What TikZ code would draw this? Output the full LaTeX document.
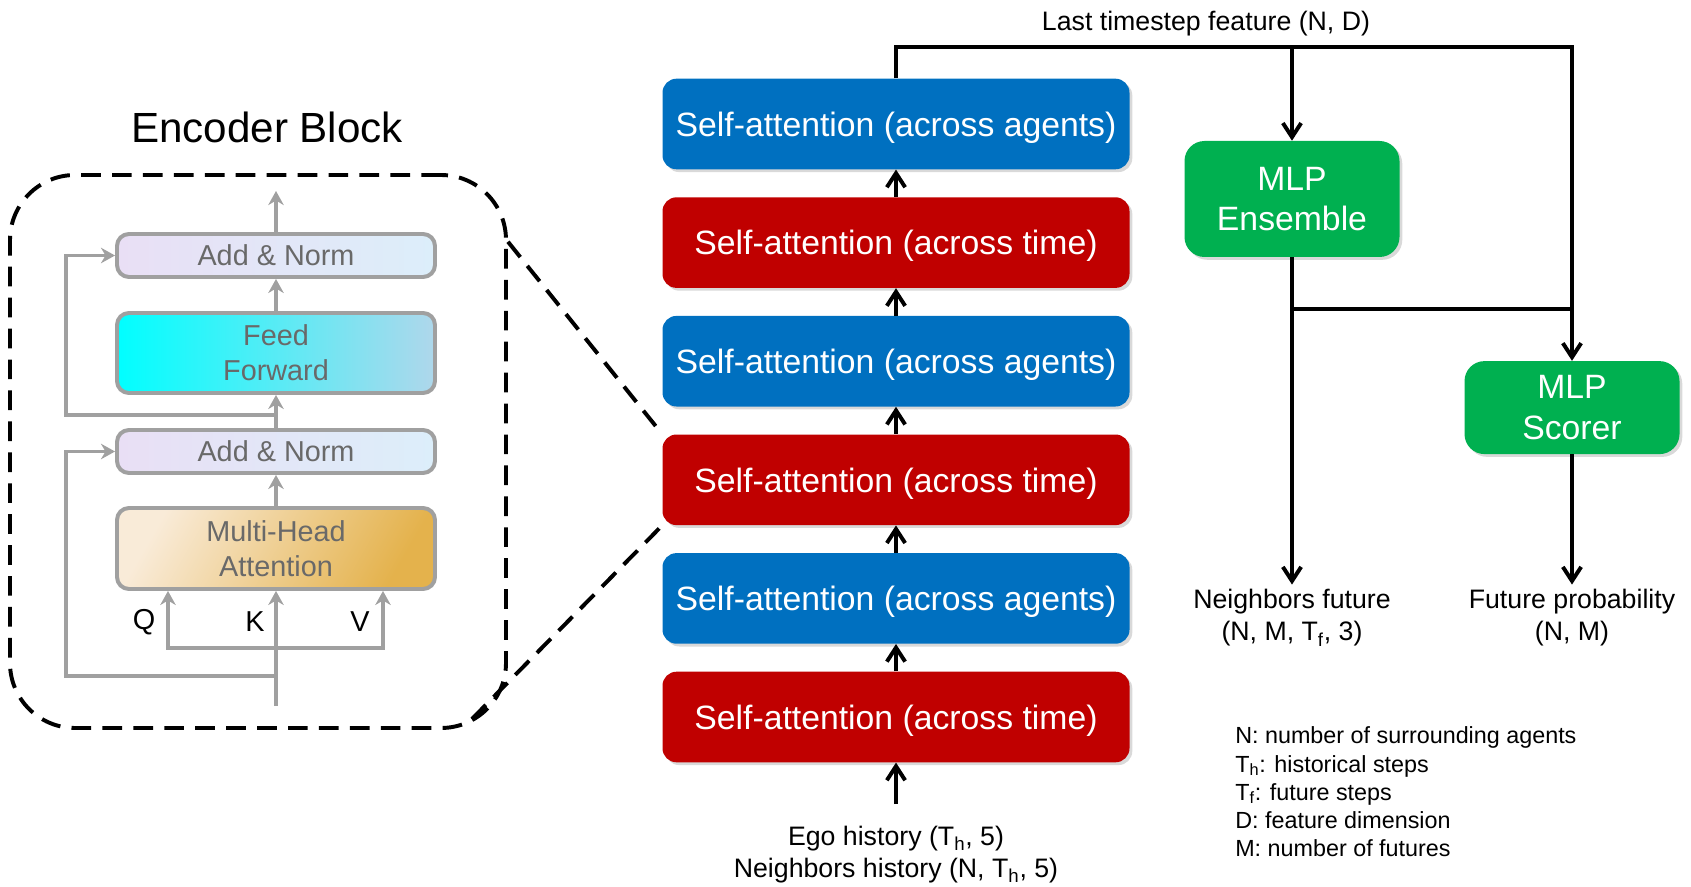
\documentclass[tikz,border=0pt]{standalone}
\usepackage{fontspec}
\setmainfont{Liberation Sans}
\usetikzlibrary{arrows.meta,positioning,shadows,calc}
\definecolor{saBlue}{RGB}{0,112,192}
\definecolor{saRed}{RGB}{192,0,0}
\definecolor{mlpGreen}{RGB}{0,176,80}
\definecolor{encGray}{RGB}{160,160,160}
\definecolor{encText}{RGB}{105,105,105}
\definecolor{anLeft}{RGB}{233,223,245}
\definecolor{anRight}{RGB}{220,238,250}
\definecolor{ffLeft}{RGB}{0,255,255}
\definecolor{ffRight}{RGB}{175,215,235}
\definecolor{mhaLight}{RGB}{249,235,216}
\definecolor{mhaDark}{RGB}{228,178,76}

\begin{document}
\begin{tikzpicture}[
    attn/.style={rectangle, rounded corners=0.35cm, text=white, text depth=0pt,
                 minimum width=11.675cm, minimum height=2.265cm,
                 font=\fontsize{24}{29}\selectfont,
                 drop shadow={shadow xshift=0.07cm, shadow yshift=-0.07cm, opacity=0.3}},
    mlp/.style={rectangle, rounded corners=0.5cm, fill=mlpGreen, text=white,
                minimum width=5.375cm, align=center,
                font=\fontsize{24}{29}\selectfont,
                drop shadow={shadow xshift=0.07cm, shadow yshift=-0.07cm, opacity=0.3}},
    encbox/.style={rectangle, rounded corners=0.3cm, draw=encGray, line width=2.8pt,
                   minimum width=7.95cm, text=encText, align=center,
                   font=\fontsize{20.5}{25}\selectfont},
    zoomline/.style={dash pattern=on 14pt off 8pt, line width=2.8pt},
    arr/.style={-{Straight Barb[length=10pt,width=13pt]}, line width=2.8pt},
    wire/.style={line width=2.8pt},
    garr/.style={-{Stealth[length=10pt,width=11pt]}, encGray, line width=2.8pt},
    lbl/.style={font=\fontsize{19}{22.8}\selectfont, align=center},
    qkvlbl/.style={font=\fontsize{20.5}{25}\selectfont}
  ]
  \useasboundingbox (0,0) rectangle (42.275,-22.175);

  % encoder block
  \node[font=\fontsize{30}{36}\selectfont] (title) at (6.675,-3.175) {Encoder Block};
  \node[draw, zoomline, rounded corners=1.625cm,
        minimum width=12.4cm, minimum height=13.825cm] (enc) at (6.45,-11.2875) {};

  \node[encbox, left color=anLeft, right color=anRight, minimum height=1.075cm]
        (an2) at (6.9,-6.3875) {Add \& Norm};
  \node[encbox, left color=ffLeft, right color=ffRight, minimum height=2cm]
        (ff) at (6.9,-8.825) {Feed\\Forward};
  \node[encbox, left color=anLeft, right color=anRight, minimum height=1.075cm]
        (an1) at (6.9,-11.2875) {Add \& Norm};
  \node[encbox, top color=mhaLight, bottom color=mhaDark, shading angle=60,
        minimum height=2.025cm] (mha) at (6.9,-13.7125) {Multi-Head\\Attention};

  \node[qkvlbl] (lq) at (3.6,-15.55) {Q};
  \node[qkvlbl] (lk) at (6.375,-15.55) {K};
  \node[qkvlbl] (lv) at (9.0,-15.55) {V};

  \coordinate (encout) at (6.9,-4.775);
  \coordinate (skipt) at (6.9,-10.375);
  \coordinate (qkv) at (6.9,-16.2);
  \coordinate (skipb) at (6.9,-16.9);
  \coordinate (encin) at (6.9,-17.65);

  \draw[garr] (an2) -- (encout);
  \draw[garr] (ff) -- (an2);
  \draw[garr] (an1) -- (ff);
  \draw[garr] (mha) -- (an1);
  \draw[garr] (encin) -- (mha);
  \draw[garr] (qkv) -| ([xshift=-2.7cm]mha.south);
  \draw[garr] (qkv) -| ([xshift=2.675cm]mha.south);
  \draw[garr] (skipt) -| ([xshift=-1.225cm]an2.west) -- (an2.west);
  \draw[garr] (skipb) -| ([xshift=-1.225cm]an1.west) -- (an1.west);

  % main stack
  \node[attn, fill=saRed]  (tm1) at (22.4,-17.925) {Self-attention (across time)};
  \node[attn, fill=saBlue] (ag1) at (22.4,-14.96)  {Self-attention (across agents)};
  \node[attn, fill=saRed]  (tm2) at (22.4,-11.995) {Self-attention (across time)};
  \node[attn, fill=saBlue] (ag2) at (22.4,-9.03)   {Self-attention (across agents)};
  \node[attn, fill=saRed]  (tm3) at (22.4,-6.065)  {Self-attention (across time)};
  \node[attn, fill=saBlue] (ag3) at (22.4,-3.1)    {Self-attention (across agents)};

  \coordinate (encbr) at ($(enc.south east)+(-0.9,0.275)$);
  \draw[zoomline] (enc.40) -- (tm2.north west);
  \draw[zoomline] (encbr) -- (tm2.south west);

  \node[lbl, inner ysep=0.55cm] (inp) at (22.4,-21.37)
        {Ego history (T\textsubscript{h}, 5)\\Neighbors history (N, T\textsubscript{h}, 5)};

  \draw[arr] (inp) -- (tm1);
  \draw[arr] (tm1) -- (ag1);
  \draw[arr] (ag1) -- (tm2);
  \draw[arr] (tm2) -- (ag2);
  \draw[arr] (ag2) -- (tm3);
  \draw[arr] (tm3) -- (ag3);

  % decoders
  \node[mlp, minimum height=2.9cm]   (ens) at (32.3,-4.975) {MLP\\Ensemble};
  \node[mlp, minimum height=2.325cm] (sco) at (39.3,-10.19) {MLP\\Scorer};

  \node[lbl] (feat) at (30.15,-0.6) {Last timestep feature (N, D)};
  \node[lbl] (nf) at (32.3,-15.45) {Neighbors future\\(N, M, T\textsubscript{f}, 3)};
  \node[lbl] (fp) at (39.3,-15.45) {Future probability\\(N, M)};

  \coordinate (bus) at (39.3,-1.175);
  \coordinate (mix) at (39.3,-7.725);
  \draw[arr] (ag3.north) |- (bus) -- (sco);
  \draw[arr] (ens.north |- bus) -- (ens);
  \draw[wire] (ens.south) |- (mix);
  \draw[arr] (ens) -- (nf);
  \draw[arr] (sco) -- (fp);

  \node[anchor=west, inner sep=0, align=left, font=\fontsize{16.6}{20.1}\selectfont]
        (key) at (30.875,-19.8)
        {N: number of surrounding agents\\T\textsubscript{h}: historical steps\\T\textsubscript{f}: future steps\\D: feature dimension\\M: number of futures};
\end{tikzpicture}
\end{document}
